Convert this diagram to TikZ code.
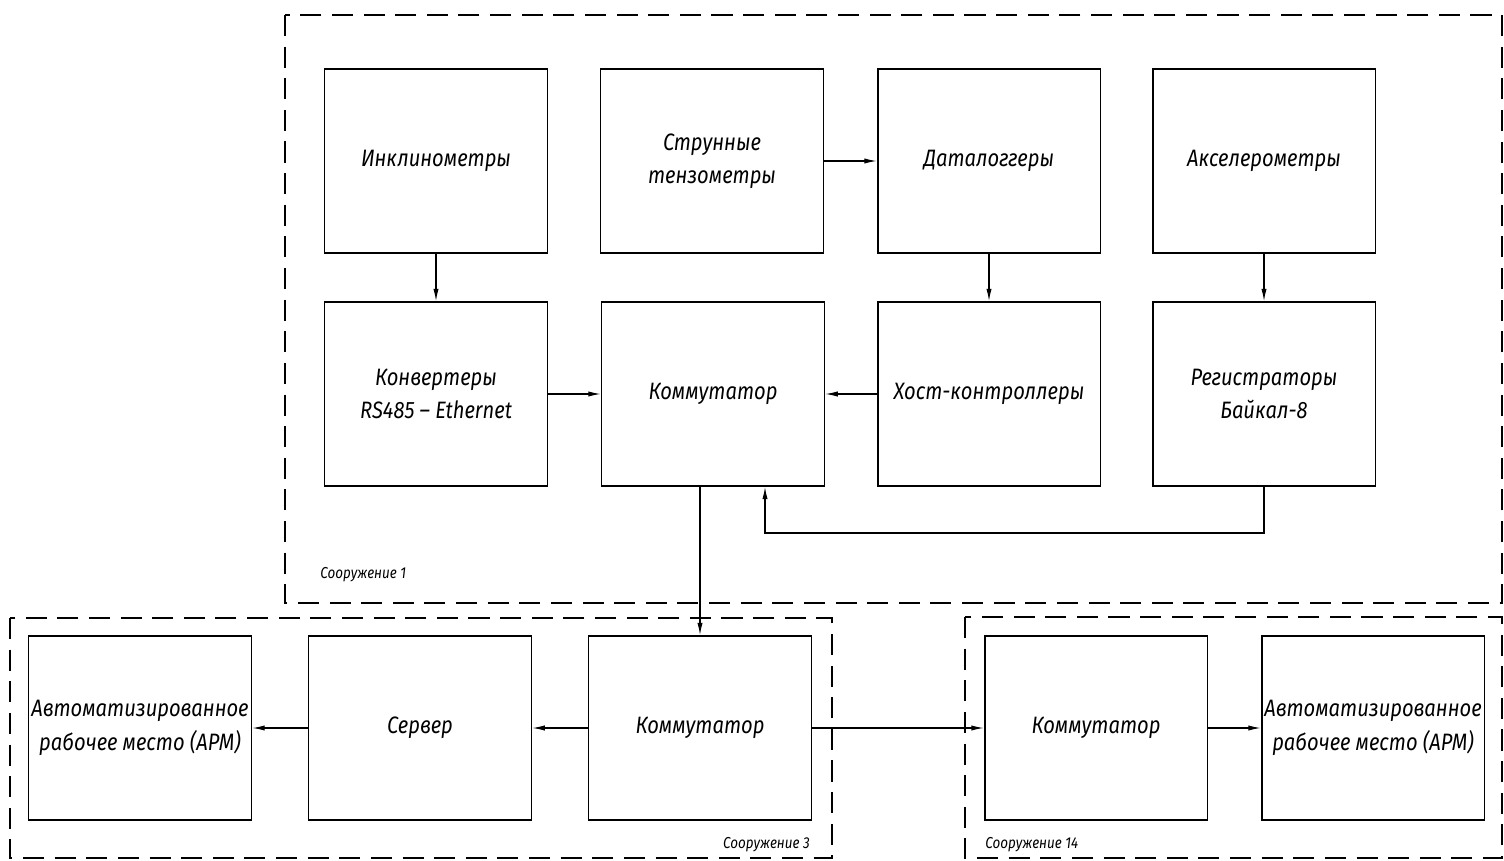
\documentclass[tikz,border=0pt]{standalone}
\usepackage{fontspec}
\setmainfont{Fira Sans}[FakeStretch=0.85]
\usetikzlibrary{arrows.meta}
\tikzstyle{block}=[draw, line width=1.1pt, minimum width=4.46cm, minimum height=3.68cm, inner sep=1pt, align=center, font=\fontsize{13.5}{19}\selectfont\itshape]
\tikzstyle{zone}=[draw, line width=1.1pt, dash pattern=on 12pt off 6pt]
\tikzstyle{link}=[draw, line width=0.6pt, -{Latex[length=7pt,width=3pt]}]
\tikzstyle{zonelabel}=[font=\fontsize{9}{10}\selectfont\itshape, inner sep=0pt]

\begin{document}
\begin{tikzpicture}[x=0.02cm, y=-0.02cm]
    \useasboundingbox (0,0) rectangle (1504,861);

    % zones
    \draw[zone] (285,15) rectangle (1502,603);
    \draw[zone] (10,618) rectangle (832,858);
    \draw[zone] (965,617) rectangle (1502,858);

    \foreach \x/\y/\name/\txt in {436/161/incl/Инклинометры, 712/161/strun/{Струнные\\тензометры},
        989/161/dlog/Даталоггеры, 1264/161/accel/Акселерометры,
        436/394/conv/{Конвертеры\\RS485 -- Ethernet}, 713/394/kom1/Коммутатор,
        989/394/host/Хост-контроллеры, 1264/394/reg/{Регистраторы\\Байкал-8}}
        \node[block] (\name) at (\x,\y) {\txt};

    \foreach \x/\y/\name/\txt in {140/728/arm3/{Автоматизированное\\рабочее место (АРМ)}, 420/728/serv/Сервер,
        700/728/kom3/Коммутатор, 1096/728/kom14/Коммутатор,
        1373/728/arm14/{Автоматизированное\\рабочее место (АРМ)}}
        \node[block] (\name) at (\x,\y) {\txt};

    \draw[link] (incl) -- (conv);
    \draw[link] (strun) -- (dlog);
    \draw[link] (dlog) -- (host);
    \draw[link] (accel) -- (reg);
    \draw[link] (conv) -- (kom1);
    \draw[link] (host) -- (kom1);

    \coordinate (fb) at (765,533);
    \draw[link] (reg.south) |- (fb) -- (fb |- kom1.south);
    \draw[link] (kom1.south -| kom3.north) -- (kom3.north);

    \draw[link] (kom3) -- (serv);
    \draw[link] (serv) -- (arm3);
    \draw[link] (kom3) -- (kom14);
    \draw[link] (kom14) -- (arm14);

    \node[zonelabel, anchor=west] (z1) at (320,575) {Сооружение 1};
    \node[zonelabel, anchor=east] (z3) at (810,845) {Сооружение 3};
    \node[zonelabel, anchor=west] (z14) at (985,845) {Сооружение 14};
\end{tikzpicture}
\end{document}
